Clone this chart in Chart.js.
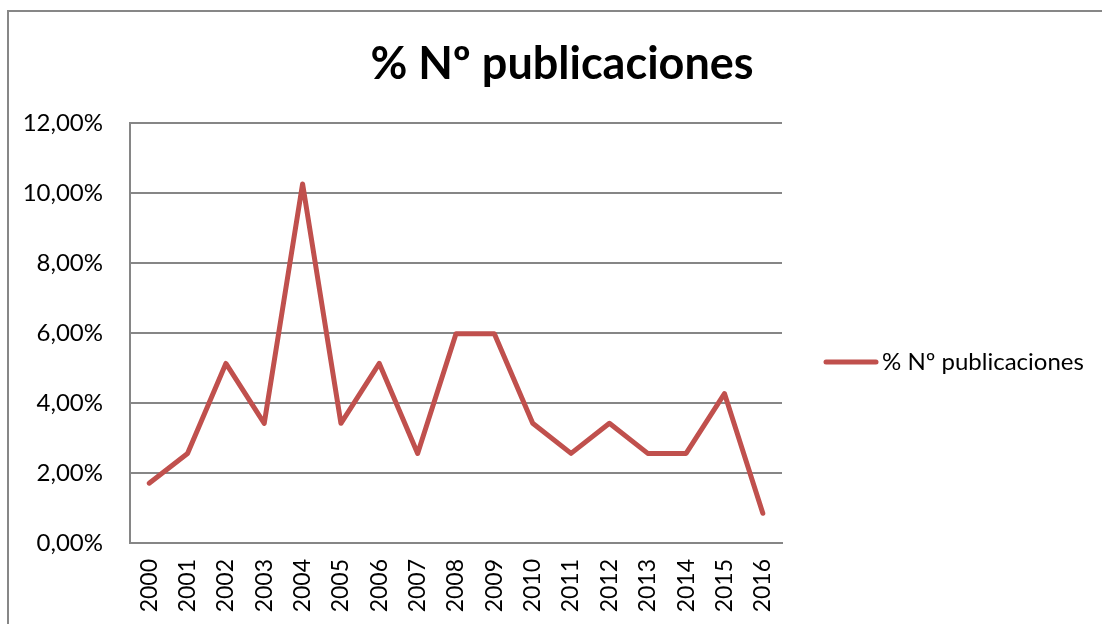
<!DOCTYPE html>
<html>
<head>
<meta charset="utf-8">
<script src="https://cdn.jsdelivr.net/npm/chart.js@4"></script>
<style>
    body { margin: 0; background: #ffffff; overflow: hidden; }
    canvas { display: block; }
</style>
</head>
<body>
<canvas id="pubChart" width="1102" height="624"></canvas>
<script>
// Years on the category axis
var years = [ '2000', '2001', '2002', '2003', '2004', '2005', '2006', '2007', '2008',
    '2009', '2010', '2011', '2012', '2013', '2014', '2015', '2016' ];

// % of publications per year
var pubPercent = [ 1.71, 2.56, 5.13, 3.42, 10.26, 3.42, 5.13, 2.56, 5.98,
    5.98, 3.42, 2.56, 3.42, 2.56, 2.56, 4.27, 0.85 ];

var seriesLabel = '% Nº publicaciones';
var chartTitle = '% Nº publicaciones';

// y tick values, in percent
var yTicks = [ 0, 2, 4, 6, 8, 10, 12 ];

var lineColor = '#C0504D';
var gridColor = '#868686';
var fontFamily = 'Lato, "Open Sans", sans-serif';

// Outer frame of the chart (left + top edge only are visible)
var framePlugin = {
    id: 'frame',
    beforeDraw: function ( chart )
    {
        var ctx = chart.ctx;
        ctx.save();
        ctx.strokeStyle = '#878787';
        ctx.lineWidth = 2;
        ctx.beginPath();
        ctx.moveTo( 8, chart.height + 5 );
        ctx.lineTo( 8, 11 );
        ctx.lineTo( chart.width + 5, 11 );
        ctx.stroke();
        ctx.restore();
    }
};

// Legend on the right: a short thick line and the series label
var legendPlugin = {
    id: 'sideLegend',
    afterDraw: function ( chart )
    {
        var ctx = chart.ctx;
        var ds = chart.data.datasets[ 0 ];
        var y = 362;
        ctx.save();
        ctx.strokeStyle = ds.borderColor;
        ctx.lineWidth = 5;
        ctx.lineCap = 'round';
        ctx.beginPath();
        ctx.moveTo( 826, y );
        ctx.lineTo( 876, y );
        ctx.stroke();
        ctx.fillStyle = '#000000';
        ctx.font = '24px ' + fontFamily;
        ctx.textBaseline = 'middle';
        ctx.textAlign = 'left';
        ctx.fillText( ds.label, 882, y );
        ctx.restore();
    }
};

var pubCanvas = document.getElementById( 'pubChart' );

var pubChart = new Chart( pubCanvas.getContext( '2d' ), {
    type: 'line',
    data: {
        labels: years,
        datasets: [ {
            label: seriesLabel,
            data: pubPercent,
            borderColor: lineColor,
            backgroundColor: lineColor,
            borderWidth: 5,
            borderCapStyle: 'round',
            borderJoinStyle: 'round',
            pointRadius: 0,
            pointHoverRadius: 0,
            tension: 0,
            yAxisID: 'y'
        } ]
    },
    options: {
        responsive: false,
        animation: false,
        layout: {
            padding: { left: 22, right: 0, top: 0, bottom: 0 }
        },
        plugins: {
            legend: { display: false },
            tooltip: { enabled: false },
            title: {
                display: true,
                text: chartTitle,
                color: '#000000',
                font: { family: fontFamily, size: 45, weight: 'bold', lineHeight: 1.2 },
                padding: { top: 37, bottom: 32 }
            }
        },
        scales: {
            x: {
                offset: true,
                grid: { display: false, drawTicks: false },
                border: { display: true, color: gridColor, width: 2 },
                ticks: {
                    color: '#000000',
                    font: { family: fontFamily, size: 23 },
                    minRotation: 90,
                    maxRotation: 90,
                    autoSkip: false,
                    padding: 16
                },
                afterFit: function ( scale ) { scale.height = 81; }
            },
            y: {
                min: 0,
                max: 12,
                afterBuildTicks: function ( scale )
                {
                    scale.ticks = yTicks.map( function ( v ) { return { value: v }; } );
                },
                grid: { color: gridColor, lineWidth: 2, drawTicks: false },
                border: { display: true, color: gridColor, width: 2 },
                ticks: {
                    color: '#000000',
                    font: { family: fontFamily, size: 24 },
                    padding: 27,
                    callback: function ( value )
                    {
                        return value.toFixed( 2 ).replace( '.', ',' ) + '%';
                    }
                },
                afterFit: function ( scale ) { scale.width = 108; }
            },
            side: {
                position: 'right',
                display: true,
                grid: { display: false, drawTicks: false },
                border: { display: false },
                ticks: { display: false },
                afterFit: function ( scale ) { scale.width = 320; }
            }
        }
    },
    plugins: [ framePlugin, legendPlugin ]
} );
</script>
</body>
</html>
